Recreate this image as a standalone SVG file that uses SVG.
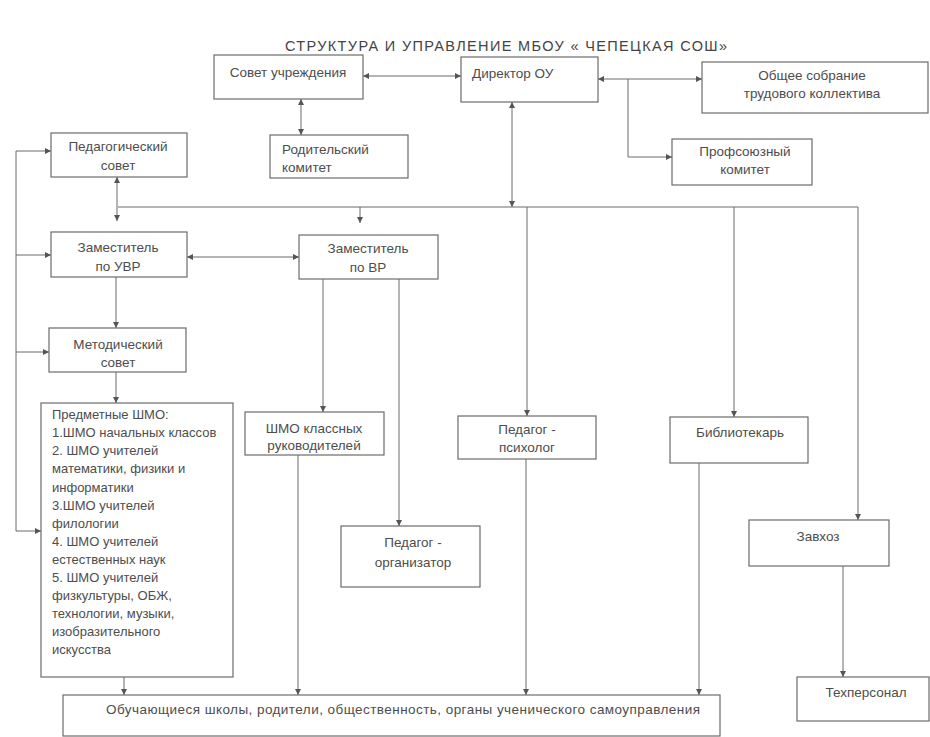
<svg xmlns="http://www.w3.org/2000/svg" width="930" height="737" viewBox="0 0 930 737">
<defs>
<marker id="ah" viewBox="0 0 10 10" refX="10" refY="5" markerWidth="6" markerHeight="6" orient="auto-start-reverse"><path d="M0,0 L10,5 L0,10 z" fill="#555"/></marker>
<style>
.box{fill:#fff;stroke:#6b6b6b;stroke-width:1.2}
.t{font-family:"Liberation Sans",Arial,sans-serif;font-size:13.5px;fill:#4d4d4d}
.c{text-anchor:middle}
.big{font-size:13px}
.title{font-family:"Liberation Sans",Arial,sans-serif;font-size:14.5px;fill:#444;text-anchor:middle}
.ln{fill:none;stroke:#6b6b6b;stroke-width:1}
.a{marker-end:url(#ah)}
.b{marker-start:url(#ah);marker-end:url(#ah)}
</style>
</defs>
<rect width="930" height="737" fill="#fff"/>
<text class="title" x="506" y="51" textLength="442" lengthAdjust="spacing">СТРУКТУРА И УПРАВЛЕНИЕ  МБОУ « ЧЕПЕЦКАЯ СОШ»</text>

<g id="connectors">
<line class="ln b" x1="363" y1="76" x2="461" y2="76"/>
<line class="ln b" x1="301" y1="99" x2="301" y2="135"/>
<line class="ln b" x1="598" y1="79" x2="702" y2="79"/>
<polyline class="ln a" points="628,79 628,157 672,157"/>
<line class="ln b" x1="512" y1="102" x2="512" y2="207"/>
<line class="ln" x1="118" y1="207" x2="858" y2="207"/>
<line class="ln b" x1="117" y1="177" x2="117" y2="221"/>
<line class="ln a" x1="360" y1="207" x2="360" y2="223"/>
<line class="ln b" x1="187" y1="257" x2="299" y2="257"/>
<line class="ln a" x1="116" y1="277" x2="116" y2="328"/>
<line class="ln a" x1="116" y1="372" x2="116" y2="403"/>
<line class="ln" x1="16" y1="151" x2="16" y2="531"/>
<line class="ln a" x1="16" y1="151" x2="51" y2="151"/>
<line class="ln a" x1="16" y1="255" x2="51" y2="255"/>
<line class="ln a" x1="16" y1="352" x2="49" y2="352"/>
<line class="ln a" x1="16" y1="531" x2="41" y2="531"/>
<line class="ln a" x1="323" y1="279" x2="323" y2="412"/>
<line class="ln a" x1="399" y1="279" x2="399" y2="526"/>
<line class="ln a" x1="527" y1="207" x2="527" y2="416"/>
<line class="ln a" x1="734" y1="207" x2="734" y2="417"/>
<line class="ln a" x1="858" y1="207" x2="858" y2="520"/>
<line class="ln a" x1="843" y1="566" x2="843" y2="677"/>
<line class="ln a" x1="298" y1="455" x2="298" y2="695"/>
<line class="ln a" x1="526" y1="459" x2="526" y2="695"/>
<line class="ln a" x1="699" y1="463" x2="699" y2="695"/>
<line class="ln a" x1="124" y1="677" x2="124" y2="695"/>
</g>

<g id="sovet"><rect class="box" x="214" y="55" width="149" height="44"/><text class="t c" x="288" y="77">Совет  учреждения</text></g>
<g id="director"><rect class="box" x="461" y="57" width="137" height="45"/><text class="t" x="472" y="78">Директор ОУ</text></g>
<g id="obshee"><rect class="box" x="702" y="62" width="226" height="51"/><text class="t c" x="812" y="80">Общее собрание</text><text class="t c" x="812" y="98">трудового коллектива</text></g>
<g id="roditel"><rect class="box" x="270" y="135" width="138" height="43"/><text class="t" x="282" y="154">Родительский</text><text class="t" x="282" y="172">комитет</text></g>
<g id="profsoyuz"><rect class="box" x="672" y="139" width="140" height="46"/><text class="t c" x="745" y="156">Профсоюзный</text><text class="t c" x="745" y="174">комитет</text></g>
<g id="pedsovet"><rect class="box" x="51" y="133" width="136" height="44"/><text class="t c" x="118" y="151">Педагогический</text><text class="t c" x="118" y="170">совет</text></g>
<g id="zam_uvr"><rect class="box" x="51" y="232" width="136" height="45"/><text class="t c" x="118" y="252">Заместитель</text><text class="t c" x="118" y="271">по  УВР</text></g>
<g id="zam_vr"><rect class="box" x="299" y="235" width="139" height="44"/><text class="t c" x="368" y="253">Заместитель</text><text class="t c" x="368" y="272">по ВР</text></g>
<g id="metod"><rect class="box" x="49" y="328" width="137" height="44"/><text class="t c" x="118" y="349">Методический</text><text class="t c" x="118" y="367">совет</text></g>
<g id="shmo_pred"><rect class="box" x="41" y="403" width="192" height="274"/>
<text class="t big" x="52" y="419">Предметные ШМО:</text>
<text class="t big" x="52" y="437">1.ШМО начальных классов</text>
<text class="t big" x="52" y="455">2. ШМО учителей</text>
<text class="t big" x="52" y="473">математики, физики  и</text>
<text class="t big" x="52" y="492">информатики</text>
<text class="t big" x="52" y="510">3.ШМО учителей</text>
<text class="t big" x="52" y="528">филологии</text>
<text class="t big" x="52" y="546">4. ШМО учителей</text>
<text class="t big" x="52" y="564">естественных наук</text>
<text class="t big" x="52" y="582">5. ШМО учителей</text>
<text class="t big" x="52" y="600">физкультуры, ОБЖ,</text>
<text class="t big" x="52" y="618">технологии, музыки,</text>
<text class="t big" x="52" y="636">изобразительного</text>
<text class="t big" x="52" y="654">искусства</text>
</g>
<g id="shmo_kl"><rect class="box" x="245" y="412" width="139" height="43"/><text class="t c" x="314" y="433">ШМО классных</text><text class="t c" x="314" y="450">руководителей</text></g>
<g id="psych"><rect class="box" x="458" y="416" width="138" height="43"/><text class="t c" x="527" y="434">Педагог -</text><text class="t c" x="527" y="452">психолог</text></g>
<g id="bibl"><rect class="box" x="670" y="417" width="138" height="46"/><text class="t c" x="740" y="437">Библиотекарь</text></g>
<g id="org"><rect class="box" x="341" y="526" width="139" height="61"/><text class="t c" x="413" y="547">Педагог -</text><text class="t c" x="413" y="567">организатор</text></g>
<g id="zavhoz"><rect class="box" x="749" y="520" width="140" height="46"/><text class="t c" x="818" y="541">Завхоз</text></g>
<g id="tehpers"><rect class="box" x="797" y="677" width="132" height="44"/><text class="t c" x="866" y="697">Техперсонал</text></g>
<g id="bottom"><rect class="box" x="63" y="695" width="657" height="41"/><text class="t c" x="403" y="714" textLength="594" lengthAdjust="spacing">Обучающиеся школы, родители, общественность, органы ученического самоуправления</text></g>
</svg>
